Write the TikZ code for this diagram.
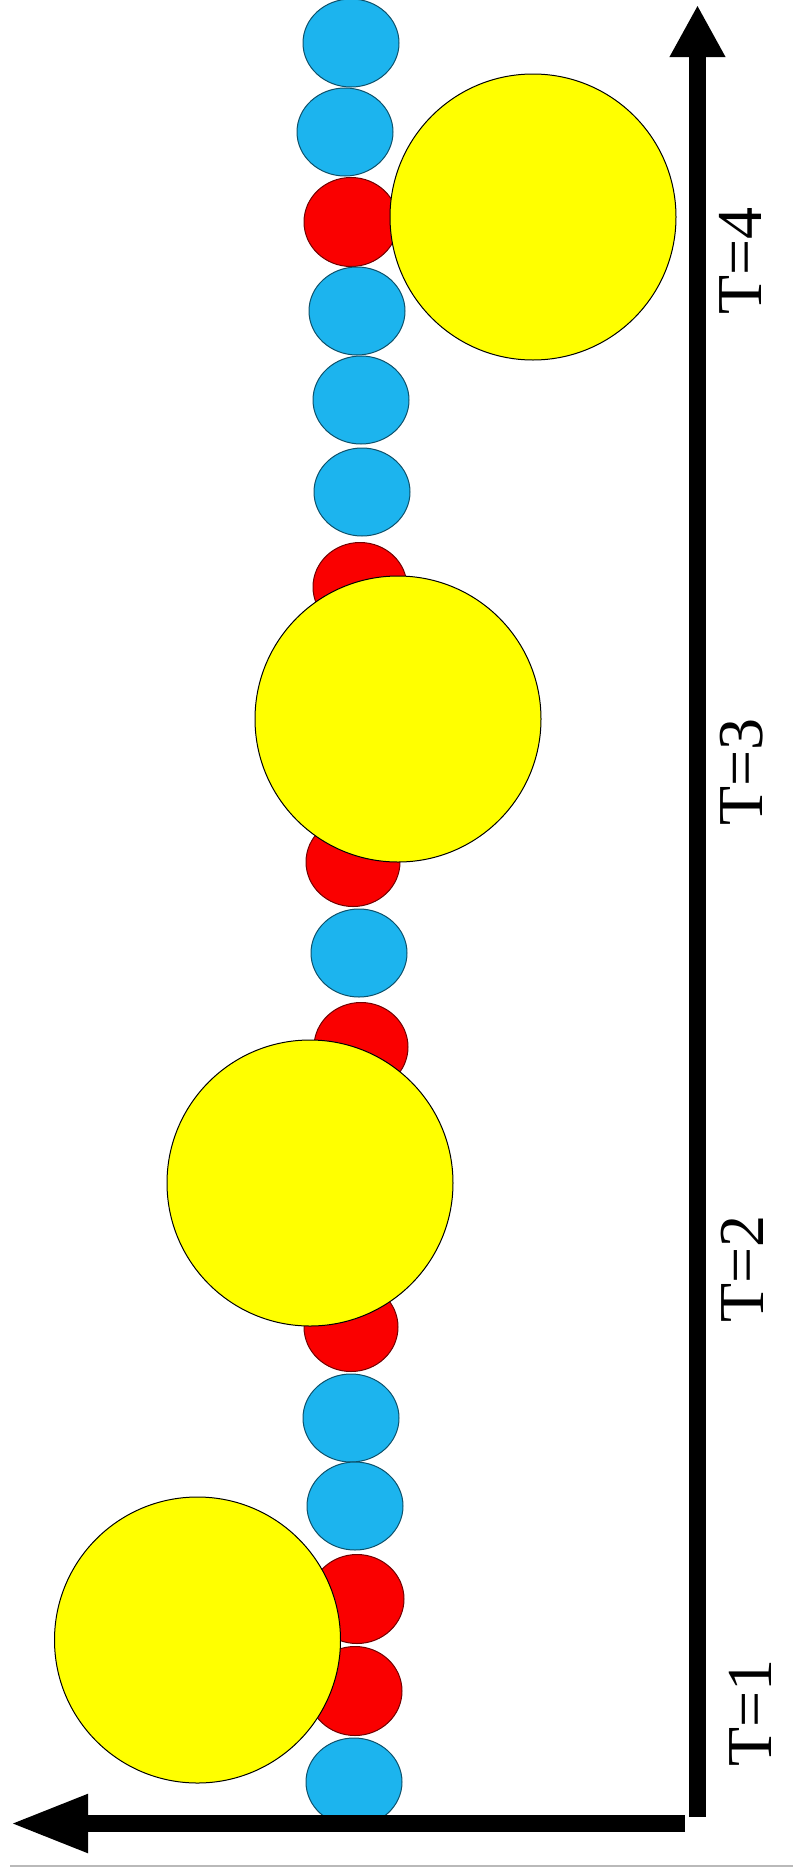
\documentclass[tikz,border=0pt]{standalone}
\usepackage{fontspec}
\setmainfont{Liberation Serif}
\usetikzlibrary{shapes.geometric, arrows.meta}
\definecolor{beadblue}{RGB}{28,180,238}
\definecolor{beadred}{RGB}{250,0,0}
\definecolor{bigyellow}{RGB}{255,255,0}

\begin{document}
\begin{tikzpicture}[x=1pt, y=-1pt,
    bluebead/.style={ellipse, draw=beadblue!45!black, fill=beadblue, line width=1pt, minimum width=96pt, minimum height=88pt, inner sep=0pt},
    redbead/.style={ellipse, draw=beadred!45!black, fill=beadred, line width=1pt, minimum width=94pt, minimum height=89pt, inner sep=0pt},
    bigball/.style={circle, draw, fill=bigyellow, line width=1pt, minimum size=286pt, inner sep=0pt},
    tlabel/.style={rotate=90, font=\rmfamily\fontsize{64}{68}\selectfont, inner sep=0pt},
    axis/.style={line width=17pt}]
    \useasboundingbox (0,0) rectangle (793,1874);
    % the chain
    \node[bluebead] (b1) at (351,43) {};
    \node[bluebead] (b2) at (345,132) {};
    \node[redbead] (r1) at (351,222) {};
    \node[bluebead] (b3) at (357,311) {};
    \node[bluebead] (b4) at (361,400) {};
    \node[bluebead] (b5) at (362,492) {};
    \node[redbead] (r2) at (360,587) {};
    \node[redbead] (r3) at (353,862) {};
    \node[bluebead] (b6) at (359,953) {};
    \node[redbead] (r4) at (361,1047) {};
    \node[redbead] (r5) at (351,1327) {};
    \node[bluebead] (b7) at (351,1418) {};
    \node[bluebead] (b8) at (355,1506) {};
    \node[redbead] (r6) at (357,1599) {};
    \node[redbead] (r7) at (355,1691) {};
    \node[bluebead] (b9) at (354,1782) {};
    % big balls, one per time step
    \node[bigball] (Y4) at (533,217) {};
    \node[bigball] (Y3) at (398,719) {};
    \node[bigball] (Y2) at (310,1183) {};
    \node[bigball] (Y1) at (197.5,1640) {};
    % axes
    \coordinate (hstart) at (685,1823.5);
    \coordinate (hend) at (10,1823.5);
    \coordinate (vstart) at (697.5,1817);
    \coordinate (vend) at (697.5,5);
    \draw[axis, -{Triangle[length=78pt, width=54pt]}] (hstart) -- (hend);
    \draw[axis, -{Triangle[length=52pt, width=52pt]}] (vstart) -- (vend);
    \node[tlabel] (t1) at (750,1713) {T=1};
    \node[tlabel] (t2) at (742,1269) {T=2};
    \node[tlabel] (t3) at (742,772) {T=3};
    \node[tlabel] (t4) at (740,261) {T=4};
    \draw[gray!55, line width=1.5pt] (10,1866) -- (793,1866);
\end{tikzpicture}
\end{document}
